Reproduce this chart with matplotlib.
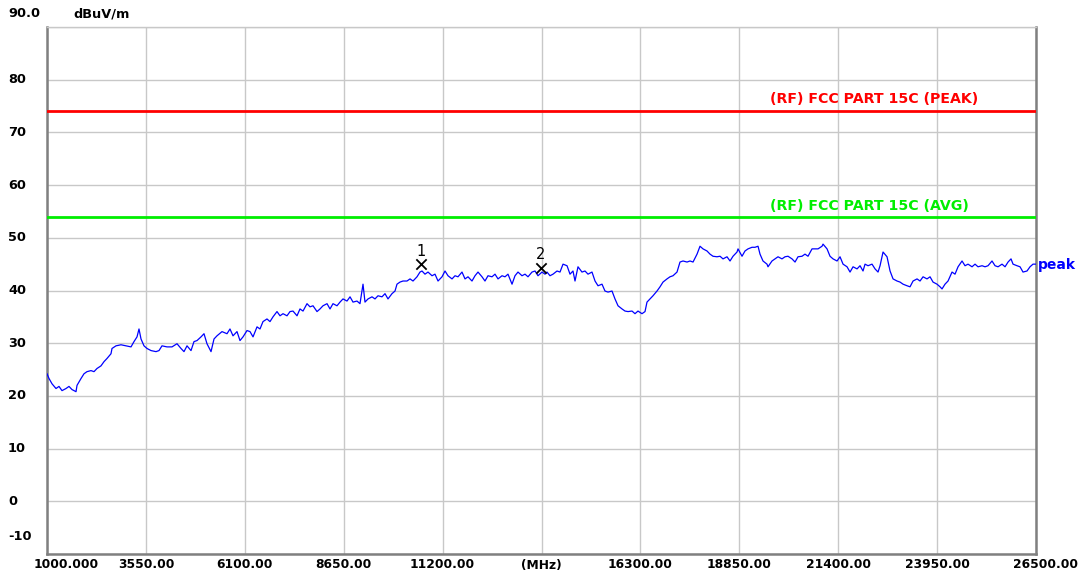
import matplotlib
matplotlib.use("Agg")
import matplotlib.pyplot as plt
import matplotlib.transforms as mtransforms

# ---------------- data ----------------
freq_mhz = [
    1000, 1052, 1129, 1232, 1309, 1387, 1490, 1567, 1645, 1748, 1774, 1877, 1954, 2031, 2134,
    2212, 2289, 2392, 2470, 2547, 2650, 2676, 2779, 2908, 3037, 3166, 3243, 3321, 3372, 3424,
    3501, 3578, 3682, 3810, 3888, 3965, 4094, 4223, 4352, 4455, 4532, 4610, 4713, 4790, 4868,
    4971, 5048, 5125, 5229, 5306, 5383, 5512, 5641, 5718, 5796, 5899, 5976, 6054, 6157, 6234,
    6312, 6415, 6492, 6569, 6672, 6750, 6827, 6930, 7008, 7085, 7188, 7266, 7343, 7446, 7523,
    7601, 7704, 7781, 7859, 7962, 8039, 8116, 8220, 8297, 8374, 8477, 8555, 8632, 8735, 8813,
    8890, 8993, 9070, 9148, 9199, 9277, 9380, 9457, 9534, 9637, 9715, 9792, 9895, 9973, 10024,
    10102, 10179, 10282, 10360, 10437, 10540, 10617, 10669, 10746, 10824, 10927, 11004, 11082,
    11185, 11262, 11339, 11443, 11520, 11597, 11700, 11778, 11855, 11958, 12036, 12113, 12216,
    12293, 12371, 12474, 12551, 12629, 12732, 12809, 12886, 12990, 13067, 13144, 13247, 13325,
    13402, 13505, 13583, 13660, 13763, 13840, 13892, 13969, 14047, 14150, 14227, 14305, 14408,
    14485, 14562, 14614, 14691, 14794, 14872, 14949, 15052, 15130, 15207, 15310, 15387, 15465,
    15568, 15645, 15723, 15826, 15903, 15981, 16084, 16161, 16238, 16341, 16419, 16470, 16548,
    16625, 16728, 16806, 16883, 16986, 17063, 17141, 17244, 17321, 17399, 17502, 17579, 17657,
    17760, 17837, 17914, 18017, 18095, 18172, 18275, 18353, 18430, 18533, 18611, 18688, 18791,
    18817, 18920, 18997, 19075, 19178, 19255, 19333, 19384, 19461, 19564, 19590, 19693, 19771,
    19848, 19951, 20029, 20106, 20209, 20287, 20364, 20467, 20544, 20622, 20725, 20802, 20880,
    20983, 21009, 21112, 21189, 21267, 21370, 21447, 21525, 21628, 21705, 21783, 21886, 21963,
    22040, 22092, 22169, 22272, 22350, 22427, 22479, 22556, 22659, 22737, 22814, 22917, 22994,
    23072, 23175, 23252, 23330, 23433, 23510, 23588, 23690, 23768, 23845, 23948, 24026, 24077,
    24154, 24232, 24335, 24412, 24490, 24593, 24670, 24748, 24851, 24928, 25005, 25109, 25186,
    25263, 25366, 25444, 25521, 25624, 25702, 25779, 25856, 25908, 26011, 26088, 26165, 26268,
    26346, 26423, 26500,
]
level_dbuv = [
    24.2, 23.3, 22.3, 21.4, 21.8, 21.0, 21.4, 21.8, 21.2, 20.8, 22.0, 23.3, 24.2, 24.6, 24.8,
    24.6, 25.2, 25.7, 26.5, 27.1, 28.0, 29.0, 29.5, 29.7, 29.5, 29.3, 30.3, 31.2, 32.7, 30.8,
    29.5, 29.0, 28.6, 28.4, 28.6, 29.5, 29.3, 29.3, 29.9, 29.0, 28.4, 29.5, 28.6, 30.3, 30.5,
    31.2, 31.8, 29.9, 28.4, 30.8, 31.4, 32.2, 31.8, 32.7, 31.4, 32.2, 30.5, 31.2, 32.4, 32.2,
    31.2, 33.1, 32.7, 34.1, 34.6, 34.1, 35.0, 36.0, 35.2, 35.6, 35.2, 36.0, 36.1, 35.2, 36.5,
    36.1, 37.5, 36.9, 37.1, 36.0, 36.5, 37.1, 37.5, 36.5, 37.5, 37.1, 37.8, 38.4, 38.0, 38.8,
    37.8, 38.0, 37.5, 41.2, 37.8, 38.4, 38.8, 38.4, 39.0, 38.8, 39.4, 38.4, 39.4, 39.9, 41.2,
    41.6, 41.8, 41.8, 42.2, 41.8, 42.6, 43.5, 43.7, 43.1, 43.5, 42.8, 43.1, 41.8,
    42.6, 43.7, 42.8, 42.2, 42.8, 42.6, 43.5, 42.2, 42.6, 41.8, 42.8, 43.5, 42.6,
    41.8, 42.8, 42.6, 43.1, 42.2, 42.8, 42.6, 43.1, 41.2, 42.8, 43.5, 42.8, 43.1,
    42.6, 43.5, 43.7, 42.8, 43.5, 43.1, 43.5, 42.8, 43.1, 43.7, 43.5, 45.0, 44.7,
    43.1, 43.7, 41.8, 44.5, 43.5, 43.7, 43.1, 43.5, 41.8, 40.9, 41.2, 39.9, 39.7,
    39.9, 38.4, 37.1, 36.5, 36.1, 36.0, 36.1, 35.6, 36.1, 35.6, 36.0, 37.8, 38.4,
    39.0, 39.9, 40.7, 41.6, 42.2, 42.6, 42.8, 43.5, 45.4, 45.6, 45.4, 45.6, 45.4,
    46.9, 48.4, 47.9, 47.5, 46.9, 46.5, 46.4, 46.5, 46.0, 46.4, 45.6, 46.5, 47.3,
    47.9, 46.5, 47.5, 47.9, 48.2, 48.2, 48.4, 46.9, 45.6, 45.0, 44.5, 45.6, 46.0,
    46.4, 46.0, 46.4, 46.5, 46.0, 45.4, 46.4, 46.5, 46.9, 46.5, 47.9, 47.9, 47.9,
    48.4, 48.8, 47.9, 46.5, 46.0, 45.6, 46.4, 45.0, 44.5, 43.5, 44.5, 44.1, 44.7,
    43.7, 45.0, 44.7, 45.0, 44.1, 43.5, 44.7, 47.3, 46.4, 43.7, 42.2, 41.8, 41.6,
    41.2, 40.9, 40.7, 41.8, 42.2, 41.8, 42.6, 42.2, 42.6, 41.6, 41.2, 40.7, 40.3,
    41.2, 41.8, 43.5, 43.1, 44.5, 45.6, 44.7, 45.0, 44.5, 45.0, 44.5, 44.7, 44.5,
    44.7, 45.6, 44.7, 44.5, 45.0, 44.5, 45.4, 46.0, 45.0, 44.7, 44.5, 43.5, 43.7,
    44.5, 45.0, 45.0,
]
marker_ids = ["1", "2"]
marker_freq = [10643, 13737]
marker_level = [45.0, 44.3]

limit_peak = 74.0
limit_avg = 54.0
limit_peak_label = "(RF) FCC PART 15C (PEAK)"
limit_avg_label = "(RF) FCC PART 15C (AVG)"

x_ticks = [1000, 3550, 6100, 8650, 11200, 13750, 16300, 18850, 21400, 23950, 26500]
x_tick_labels = ["1000.000", "3550.00", "6100.00", "8650.00", "11200.00", "(MHz)",
                 "16300.00", "18850.00", "21400.00", "23950.00", "26500.00"]
y_ticks = [-10, 0, 10, 20, 30, 40, 50, 60, 70, 80, 90]
y_tick_labels = ["-10", "0", "10", "20", "30", "40", "50", "60", "70", "80", "90.0"]
y_unit = "dBuV/m"
trace_name = "peak"

# ---------------- plot ----------------
W, H = 1082, 575
fig = plt.figure(figsize=(W / 100, H / 100), dpi=100)
ax = fig.add_axes([47 / W, 21 / H, 989 / W, 527 / H])
ax.set_xlim(x_ticks[0], x_ticks[-1])
ax.set_ylim(y_ticks[0], y_ticks[-1])
ax.set_xticks(x_ticks)
ax.set_yticks(y_ticks)
ax.grid(True, color="#c8c8c8", lw=1.0)
ax.set_axisbelow(True)
ax.tick_params(length=0, labelleft=False, labelbottom=False)
for s in ["left", "bottom", "right"]:
    ax.spines[s].set_color("#808080")
    ax.spines[s].set_linewidth(1.8)
ax.spines["top"].set_color("#c8c8c8")
ax.spines["top"].set_linewidth(1.0)

font = dict(family="DejaVu Sans", weight="bold", size=9.3)
xfont = dict(font, size=8.8)
lfont = dict(font, size=10.2)


def px(dx, dy):
    return mtransforms.ScaledTranslation(dx / 100, dy / 100, fig.dpi_scale_trans)


ax.axhline(limit_peak, color="#ff0000", lw=2.0, zorder=3)
ax.axhline(limit_avg, color="#00ee00", lw=2.0, zorder=3)
ax.plot(freq_mhz, level_dbuv, color="#0000ff", lw=0.9, zorder=4)

label_start = 19640  # frequency where limit labels begin
ax.text(label_start, limit_peak, limit_peak_label, color="#ff0000", ha="left", va="center",
        transform=ax.transData + px(0, 12), **lfont)
ax.text(label_start, limit_avg, limit_avg_label, color="#00ee00", ha="left", va="center",
        transform=ax.transData + px(0, 11), **lfont)

# markers
ax.scatter(marker_freq, marker_level, marker="x", s=55, color="black", lw=1.3, zorder=5)
for mid, mf, ml in zip(marker_ids, marker_freq, marker_level):
    ax.text(mf, ml, mid, ha="center", va="center", color="black",
            transform=ax.transData + px(0, 13), **dict(font, weight="normal", size=10.5))

# trace name
ax.text(x_ticks[-1], level_dbuv[-1], trace_name, color="#0000ff", ha="left", va="center",
        transform=ax.transData + px(2, -0.5), clip_on=False, **dict(font, size=10))

# y tick labels
ytr = mtransforms.blended_transform_factory(fig.transFigure, ax.transData)
for v, lab in zip(y_ticks, y_tick_labels):
    dy = 0
    if v == y_ticks[0]:
        dy = 17
    elif v == y_ticks[-1]:
        dy = 13
    ax.text(8 / W, v, lab, ha="left", va="center", transform=ytr + px(0, dy),
            clip_on=False, **font)
ax.text(73 / W, y_ticks[-1], y_unit, ha="left", va="center", transform=ytr + px(0, 13),
        clip_on=False, **font)

# x tick labels
xtr = mtransforms.blended_transform_factory(ax.transData, ax.transAxes)
for i, (v, lab) in enumerate(zip(x_ticks, x_tick_labels)):
    dx = 0
    if i == 0:
        dx = 19
    elif i == len(x_ticks) - 1:
        dx = 9
    ax.text(v, 0, lab, ha="center", va="center", transform=xtr + px(dx, -11),
            clip_on=False, **xfont)

fig.savefig("out.png", dpi=100, facecolor="white")
